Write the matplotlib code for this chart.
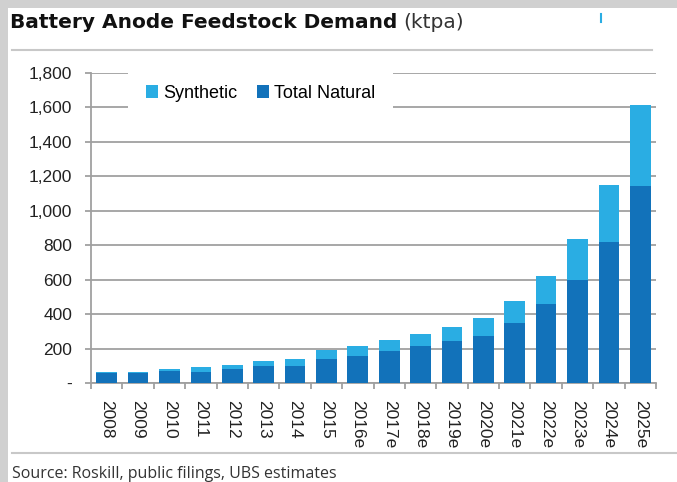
import numpy as np
import matplotlib.pyplot as plt
from matplotlib.patches import Rectangle
from matplotlib.lines import Line2D

years = ['2008', '2009', '2010', '2011', '2012', '2013', '2014', '2015', '2016e',
         '2017e', '2018e', '2019e', '2020e', '2021e', '2022e', '2023e', '2024e', '2025e']
natural = [60, 57, 70, 66, 81, 97, 101, 141, 155, 184, 215, 242, 275, 347, 457, 599, 820, 1141]
synthetic = [5, 4, 13, 29, 26, 29, 40, 49, 58, 68, 70, 84, 101, 130, 167, 236, 327, 471]
yticks = [0, 200, 400, 600, 800, 1000, 1200, 1400, 1600, 1800]
ytick_labels = ['-', '200', '400', '600', '800', '1,000', '1,200', '1,400', '1,600', '1,800']

dark_blue = '#1272BA'
light_blue = '#2AADE3'
grid_grey = '#a0a0a0'

plt.rcParams['font.family'] = ['Liberation Sans', 'DejaVu Sans']

fig = plt.figure(figsize=(6.77, 4.82), dpi=100, facecolor='#d0d0d0')

# white panel behind the chart
fig.patches.append(Rectangle((8 / 677, 0), 1, 1 - 8 / 482, transform=fig.transFigure,
                             facecolor='white', edgecolor='none', zorder=-10))

# title, rules and source
title = fig.text(10 / 677, 1 - 22 / 482, 'Battery Anode Feedstock Demand', fontsize=14.5,
                 fontweight='bold', family=['DejaVu Sans'], va='center', color='#111111')
fig.lines.append(Line2D([12 / 677, 652 / 677], [1 - 50 / 482] * 2, transform=fig.transFigure,
                        color='#c8c8c8', lw=1.5))
fig.lines.append(Line2D([600.5 / 677, 600.5 / 677], [1 - 14 / 482, 1 - 22 / 482],
                        transform=fig.transFigure, color=light_blue, lw=1.5))
fig.lines.append(Line2D([12 / 677, 1], [1 - 453 / 482] * 2, transform=fig.transFigure,
                        color='#c8c8c8', lw=1.5))
fig.text(12 / 677, 1 - 474 / 482, 'Source: Roskill, public filings, UBS estimates', fontsize=11.5,
         family=['Open Sans', 'DejaVu Sans'], va='center', color='#333333')

ax = fig.add_axes([91 / 677, 1 - 383 / 482, (656 - 91) / 677, (383 - 73) / 482])
ax.set_facecolor('none')

ax.annotate('(ktpa)', xy=(1, 0), xycoords=title, xytext=(4, 0), textcoords='offset points',
            va='bottom', fontsize=14.5, family=['DejaVu Sans'], color='#333333',
            annotation_clip=False)

x = np.arange(len(years))
ax.bar(x, natural, width=0.66, color=dark_blue, label='Total Natural', zorder=3)
ax.bar(x, synthetic, width=0.66, bottom=natural, color=light_blue, label='Synthetic', zorder=3)

ax.set_xlim(-0.5, len(years) - 0.5)
ax.set_ylim(0, 1800)
ax.set_yticks(yticks)
ax.set_yticklabels(ytick_labels, fontsize=12.5, color='#222222')
ax.yaxis.grid(True, color=grid_grey, lw=1.3, zorder=0)
ax.set_axisbelow(True)

ax.set_xticks(x)
ax.set_xticklabels(years, rotation=270, fontsize=12.5, color='#222222')
ax.set_xticks(np.arange(-0.5, len(years)), minor=True)
ax.tick_params(axis='x', which='major', length=0, pad=12)
ax.tick_params(axis='x', which='minor', length=4, color=grid_grey, width=1.3)
ax.tick_params(axis='y', length=4.5, color=grid_grey, width=1.3, pad=9)

for s in ['top', 'right']:
    ax.spines[s].set_visible(False)
for s in ['left', 'bottom']:
    ax.spines[s].set_color(grid_grey)
    ax.spines[s].set_linewidth(1.3)

h, l = ax.get_legend_handles_labels()
leg = ax.legend(h[::-1], l[::-1], ncol=2, loc='center', bbox_to_anchor=(0.30, 0.935),
                fontsize=13, frameon=True, facecolor='white', edgecolor='none', framealpha=1,
                fancybox=False, handlelength=0.65, handleheight=0.7, handletextpad=0.28,
                columnspacing=1.1, borderpad=1.0, borderaxespad=0)
leg.set_zorder(5)

plt.savefig('out.png', dpi=100, facecolor=fig.get_facecolor())
